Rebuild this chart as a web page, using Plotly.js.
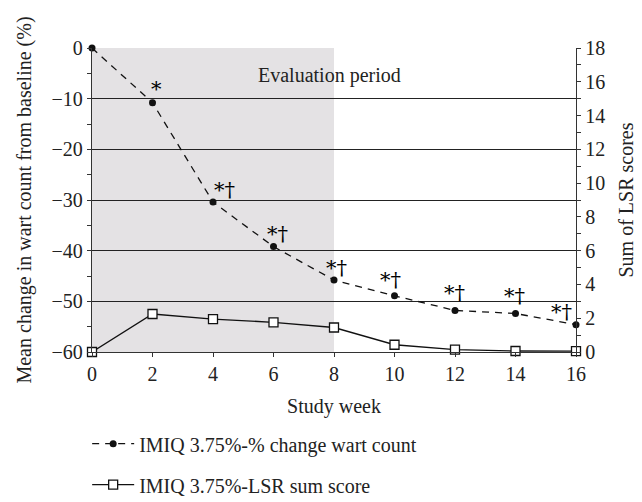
<!DOCTYPE html>
<html>
<head>
<meta charset="utf-8">
<script src="https://cdn.plot.ly/plotly-3.0.1.min.js"></script>
<style>html,body{margin:0;padding:0;background:#fff;}#chart{width:642px;height:502px;}</style>
</head>
<body>
<div id="chart"></div>
<script>
const weeks = [0, 2, 4, 6, 8, 10, 12, 14, 16];
const wartChange = [0, -10.8, -30.4, -39.2, -45.8, -48.9, -51.8, -52.4, -54.6];
const lsrScore = [0, 2.25, 1.95, 1.76, 1.45, 0.43, 0.14, 0.06, 0.05];
const sigLabels = ["", "*", "*†", "*†", "*†", "*†", "*†", "*†", "*†"];
const seriesNames = ["IMIQ 3.75%-% change wart count", "IMIQ 3.75%-LSR sum score"];
const xTickVals = [0, 2, 4, 6, 8, 10, 12, 14, 16];
const evalPeriod = [0, 8];

const FONT = "Liberation Serif, Times New Roman, serif";
const SYMFONT = "DejaVu Serif, serif";
const xShift = [0, 4, 11, 4, 2, -4, -1, -1, -15];
const yShift = [0, 14, 12, 13, 12, 16, 17, 17, 13];

const annotations = [];
weeks.forEach((w, i) => {
  if (!sigLabels[i]) return;
  annotations.push({
    x: w, y: wartChange[i], xref: 'x', yref: 'y',
    text: sigLabels[i], showarrow: false,
    xshift: xShift[i], yshift: yShift[i],
    font: {family: SYMFONT, size: 21, color: '#000'}
  });
});
annotations.push({
  xref: 'paper', yref: 'paper', x: 0.49, y: 0.955, text: 'Evaluation period',
  showarrow: false, font: {family: FONT, size: 20, color: '#222'}
});

const traces = [
  {
    x: weeks, y: wartChange, name: seriesNames[0], type: 'scatter', mode: 'lines+markers',
    line: {color: '#111', width: 1.3, dash: '7px,6px'},
    marker: {symbol: 'circle', size: 7, color: '#111'},
    cliponaxis: false, legendgroup: 'a'
  },
  {
    x: weeks, y: lsrScore, name: seriesNames[1], type: 'scatter', mode: 'lines+markers',
    yaxis: 'y2',
    line: {color: '#111', width: 1.3},
    marker: {symbol: 'square', size: 9, color: '#fff', line: {color: '#111', width: 1.3}},
    cliponaxis: false, legendgroup: 'b'
  }
];

const layout = {
  width: 642, height: 502,
  margin: {l: 92, r: 66, t: 48, b: 150},
  paper_bgcolor: '#fff', plot_bgcolor: 'rgba(0,0,0,0)',
  font: {family: FONT, size: 20, color: '#222'},
  showlegend: true,
  legend: {
    xref: 'paper', yref: 'container',
    x: -0.01, xanchor: 'left', y: 0.155, yanchor: 'top',
    font: {family: FONT, size: 20, color: '#222'},
    tracegroupgap: 12, itemwidth: 42, bgcolor: 'rgba(0,0,0,0)'
  },
  xaxis: {
    range: [0, 16], tickvals: xTickVals, ticks: 'outside', ticklen: 4, tickcolor: '#333',
    showline: true, linecolor: '#333', linewidth: 1.3, showgrid: false, zeroline: false,
    automargin: false,
    title: {text: 'Study week', font: {family: FONT, size: 20, color: '#222'}, standoff: 14},
    tickfont: {family: FONT, size: 20, color: '#222'}
  },
  yaxis: {
    range: [-60, 0], dtick: 10, ticks: 'outside', ticklen: 4, tickcolor: '#333',
    showline: true, linecolor: '#333', linewidth: 1.3, automargin: false,
    showgrid: true, gridcolor: '#222', gridwidth: 1, zeroline: false,
    minor: {dtick: 5, ticks: 'outside', ticklen: 4, tickcolor: '#333', showgrid: false},
    title: {text: 'Mean change in wart count from baseline (%)', font: {family: FONT, size: 20, color: '#222'}, standoff: 14},
    tickfont: {family: FONT, size: 20, color: '#222'}
  },
  yaxis2: {
    overlaying: 'y', side: 'right', range: [0, 18], dtick: 2,
    ticks: 'outside', ticklen: 4, tickcolor: '#333', automargin: false,
    showline: true, linecolor: '#333', linewidth: 1.3, showgrid: false, zeroline: false,
    minor: {dtick: 1, ticks: 'outside', ticklen: 4, tickcolor: '#333', showgrid: false},
    title: {text: 'Sum of LSR scores', font: {family: FONT, size: 20, color: '#222'}, standoff: 14},
    tickfont: {family: FONT, size: 20, color: '#222'}
  },
  shapes: [
    {type: 'rect', xref: 'x', yref: 'paper', x0: evalPeriod[0], x1: evalPeriod[1], y0: 0, y1: 1,
     fillcolor: '#e4e2e4', line: {width: 0}, layer: 'below'}
  ],
  annotations: annotations
};

Plotly.newPlot('chart', traces, layout, {displayModeBar: false, staticPlot: true});
</script>
</body>
</html>
